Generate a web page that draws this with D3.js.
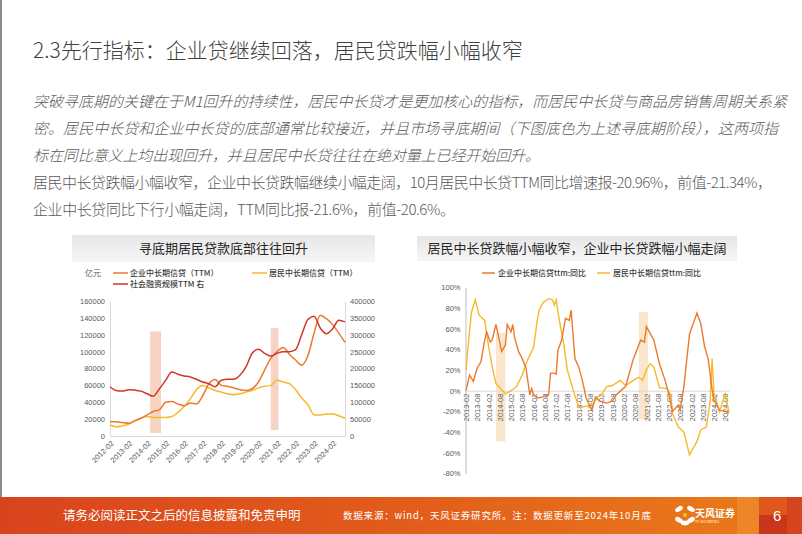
<!DOCTYPE html>
<html><head><meta charset="utf-8">
<script src="https://cdn.jsdelivr.net/npm/d3@7"></script>
<style>
html,body{margin:0;padding:0;background:#fff;}
svg{display:block;font-family:"Noto Sans CJK SC","Noto Sans",sans-serif;}
</style></head><body>
<svg id="c" width="802" height="534"></svg>
<script>
// ---------- texts ----------
const titleText = "2.3先行指标：企业贷继续回落，居民贷跌幅小幅收窄";
const paraItalic = [
  "突破寻底期的关键在于M1回升的持续性，居民中长贷才是更加核心的指标，而居民中长贷与商品房销售周期关系紧",
  "密。居民中长贷和企业中长贷的底部通常比较接近，并且市场寻底期间（下图底色为上述寻底期阶段），这两项指",
  "标在同比意义上均出现回升，并且居民中长贷往往在绝对量上已经开始回升。"
];
const paraPlain = [
  "居民中长贷跌幅小幅收窄，企业中长贷跌幅继续小幅走阔，10月居民中长贷TTM同比增速报-20.96%，前值-21.34%，",
  "企业中长贷同比下行小幅走阔，TTM同比报-21.6%，前值-20.6%。"
];
const leftTitle = "寻底期居民贷款底部往往回升";
const rightTitle = "居民中长贷跌幅小幅收窄，企业中长贷跌幅小幅走阔";
const leftUnit = "亿元";
const leftSeriesNames = ["企业中长期信贷（TTM）", "居民中长期信贷（TTM）", "社会融资规模TTM 右"];
const rightSeriesNames = ["企业中长期信贷ttm:同比", "居民中长期信贷ttm:同比"];
const footerLeft = "请务必阅读正文之后的信息披露和免责申明";
const footerSource = "数据来源：wind，天风证券研究所。注：数据更新至2024年10月底";
const pageNo = "6";

// ---------- left chart data (亿元) ----------
const leftDates = ["2012-02","2012-06","2012-10","2013-02","2013-06","2013-10","2014-02","2014-06","2014-10","2015-02","2015-06","2015-10","2016-02","2016-06","2016-10","2017-02","2017-06","2017-10","2018-02","2018-06","2018-10","2019-02","2019-06","2019-10","2020-02","2020-06","2020-10","2021-02","2021-06","2021-10","2022-02","2022-06","2022-10","2023-02","2023-06","2023-10","2024-02","2024-06","2024-10"];
const corpTTM = [17000,17000,16000,15000,18000,21000,25000,29000,31000,40000,41000,38000,36000,39000,38000,48000,62000,67000,60000,59000,57000,55000,54000,56000,64000,78000,92000,100000,105000,97000,90000,84000,95000,122000,143000,139000,132000,122000,111000];
const houseTTM = [13000,11000,12000,14000,18000,21000,23000,22000,22000,22000,23000,28000,35000,44000,55000,60000,57000,54000,52000,50000,49000,50000,52000,54000,57000,59000,60000,66000,64000,62000,55000,45000,37000,25000,25000,26000,26000,24000,21000];
const tsfTTM = [146000,135000,133000,137000,136000,133000,125000,118000,140000,165000,190000,183000,178000,175000,168000,160000,155000,146000,165000,168000,168000,180000,205000,245000,257000,245000,237000,245000,250000,250000,256000,300000,345000,355000,320000,303000,318000,343000,338000];
const leftYTicks = [0,20000,40000,60000,80000,100000,120000,140000,160000];
const rightYTicks = [0,50000,100000,150000,200000,250000,300000,350000,400000];
const leftXTicks = ["2012-02","2013-02","2014-02","2015-02","2016-02","2017-02","2018-02","2019-02","2020-02","2021-02","2022-02","2023-02","2024-02"];
const leftBandStart = ["2014-04","2020-10"];
const leftBandEnd = ["2014-11","2021-03"];
const leftBandTop = [124000,128000];
const leftBandBottom = [3500,7000];

// ---------- right chart data (% YoY) ----------
const corpDates = ["2013-02","2013-04","2013-06","2013-08","2013-10","2013-12","2014-01","2014-03","2014-04","2014-06","2014-08","2014-09","2014-11","2014-12","2015-02","2015-03","2015-04","2015-06","2015-08","2015-10","2015-12","2016-01","2016-02","2016-04","2016-07","2016-10","2016-11","2017-01","2017-02","2017-03","2017-05","2017-07","2017-09","2017-10","2017-12","2018-02","2018-04","2018-06","2018-09","2018-11","2019-01","2019-05","2019-08","2019-10","2020-03","2020-07","2020-11","2021-01","2021-02","2021-06","2021-09","2021-12","2022-02","2022-04","2022-07","2022-08","2022-10","2023-01","2023-05","2023-07","2023-09","2023-11","2024-01","2024-02","2024-05","2024-08","2024-10"];
const corpYoY = [0,15,9,22,28,49,57,47,49,64,47,38,44,64,57,64,51,38,31,22,-4,2,-4,-7,-6,-4,17,17,16,39,49,70,68,78,31,23,10,-7,-19,-6,-10,-12,-10,-4,4,30,49,47,62,49,26,10,-4,-20,-14,-19,4,55,75,65,43,30,1,-9,-19,-20,-21.6];
const houseDates = ["2013-02","2013-04","2013-05","2013-07","2013-09","2013-12","2014-02","2014-04","2014-06","2014-09","2014-11","2015-02","2015-05","2015-08","2015-10","2016-01","2016-02","2016-04","2016-05","2016-07","2016-10","2016-12","2017-01","2017-02","2017-04","2017-06","2017-08","2017-11","2018-02","2018-06","2018-10","2018-12","2019-02","2019-05","2019-08","2019-12","2020-03","2020-07","2020-10","2020-12","2021-02","2021-04","2021-06","2021-09","2022-01","2022-03","2022-04","2022-07","2022-10","2023-01","2023-05","2023-07","2023-10","2023-12","2024-01","2024-02","2024-05","2024-08","2024-10"];
const houseYoY = [20,59,76,88,73,68,43,23,7,1,-3,0,4,15,26,38,42,68,78,85,89,88,83,88,65,46,20,1,-16,-15,-12,-6,-4,4,5,10,5,10,13,10,20,26,23,3,2,-4,-22,-35,-40,-62,-49,-38,-35,-10,31,-3,-20,-3,-20.96];
const pctTicks = [-80,-60,-40,-20,0,20,40,60,80,100];
const rightXTicks = ["2013-02","2013-08","2014-02","2014-08","2015-02","2015-08","2016-02","2016-08","2017-02","2017-08","2018-02","2018-08","2019-02","2019-08","2020-02","2020-08","2021-02","2021-08","2022-02","2022-08","2023-02","2023-08","2024-02","2024-08"];
const rightBandStart = ["2014-06","2020-10"];
const rightBandEnd = ["2014-11","2021-03"];
const rightBandTop = [56,76];
const rightBandBottom = [-49,-28];

// ---------- colours ----------
const cCorp = "#EC7A2E", cHouse = "#F6B92B", cTsf = "#D2352A";
const cBandL = "#F7D3C3", cBandR = "#FAE6CC";

const parse = d3.timeParse("%Y-%m");
const svg = d3.select("#c");
const defs = svg.append("defs");

// slide frame
svg.append("rect").attr("x",0).attr("y",0).attr("width",802).attr("height",534).attr("fill","#fff");
svg.append("line").attr("x1",1).attr("x2",1).attr("y1",0).attr("y2",497).attr("stroke","#8c8c8c").attr("stroke-width",2);

// title
svg.append("text").attr("x",33).attr("y",58).attr("font-size",21).attr("font-weight",300)
  .attr("fill","#3f3f3f").text(titleText);

// paragraph
const lineY = [107,134,161,188,215];
const lineW = [754,745,507,739,422];
paraItalic.forEach((t,i)=>{
  svg.append("text").attr("x",33).attr("y",lineY[i]).attr("font-size",15).attr("font-style","italic").attr("font-weight",300)
    .attr("fill","#595959").attr("textLength",lineW[i]).attr("lengthAdjust","spacing").text(t);
});
paraPlain.forEach((t,i)=>{
  svg.append("text").attr("x",33).attr("y",lineY[i+3]).attr("font-size",15).attr("font-weight",300)
    .attr("fill","#595959").attr("textLength",lineW[i+3]).attr("lengthAdjust","spacing").text(t);
});

// title boxes
const g1 = defs.append("linearGradient").attr("id","tb").attr("x1",0).attr("x2",0).attr("y1",0).attr("y2",1);
g1.append("stop").attr("offset","0").attr("stop-color","#e6e6e6");
g1.append("stop").attr("offset","1").attr("stop-color","#f6f6f6");
function titleBox(x,y,w,h,t){
  svg.append("rect").attr("x",x).attr("y",y).attr("width",w).attr("height",h).attr("fill","url(#tb)");
  svg.append("text").attr("x",x+w/2).attr("y",y+h/2+4.5).attr("text-anchor","middle")
    .attr("font-size",13).attr("fill","#262626").text(t);
}
titleBox(72,235,303,27,leftTitle);
titleBox(417,236,320,25,rightTitle);

// ================= LEFT CHART =================
const xL = d3.scaleTime().domain([parse("2012-02"),parse("2024-10")]).range([110,345]);
const yL = d3.scaleLinear().domain([0,160000]).range([436,301]);
const yR = d3.scaleLinear().domain([0,400000]).range([436,301]);

// bands
leftBandStart.forEach((s,i)=>{
  svg.append("rect").attr("x",xL(parse(s))).attr("width",xL(parse(leftBandEnd[i]))-xL(parse(s)))
    .attr("y",yL(leftBandTop[i])).attr("height",yL(leftBandBottom[i])-yL(leftBandTop[i])).attr("fill",cBandL);
});

function styleAxis(g, fs){
  g.select(".domain").attr("stroke","#d9d9d9");
  g.selectAll("text").attr("fill","#595959").attr("font-size",fs).attr("font-family","'Liberation Sans',Arial,sans-serif");
}
svg.append("g").attr("transform","translate(110,0)")
  .call(d3.axisLeft(yL).tickValues(leftYTicks).tickSize(0).tickPadding(5).tickFormat(d3.format("d")))
  .call(g=>styleAxis(g,7.5));
svg.append("g").attr("transform","translate(345,0)")
  .call(d3.axisRight(yR).tickValues(rightYTicks).tickSize(0).tickPadding(5).tickFormat(d3.format("d")))
  .call(g=>styleAxis(g,7.5));
svg.append("g").attr("transform","translate(0,436)")
  .call(d3.axisBottom(xL).tickValues(leftXTicks.map(parse)).tickSize(0).tickFormat(d3.timeFormat("%Y-%m")))
  .call(g=>{styleAxis(g,7.5);
    g.selectAll("text").attr("x",0).attr("y",0).attr("dy","0.35em")
      .attr("transform","translate(2,6) rotate(-45)").style("text-anchor","end");});

const lineL = (ys)=>d3.line().x((d,i)=>xL(parse(leftDates[i]))).y(d=>ys(d)).curve(d3.curveMonotoneX);
svg.append("path").datum(houseTTM).attr("d",lineL(yL)).attr("fill","none").attr("stroke",cHouse).attr("stroke-width",1.5);
svg.append("path").datum(corpTTM).attr("d",lineL(yL)).attr("fill","none").attr("stroke",cCorp).attr("stroke-width",1.5);
svg.append("path").datum(tsfTTM).attr("d",lineL(yR)).attr("fill","none").attr("stroke",cTsf).attr("stroke-width",1.5);

// left legend
svg.append("text").attr("x",85).attr("y",276).attr("font-size",8).attr("fill","#595959").text(leftUnit);
const legL = [[113,273,cCorp,leftSeriesNames[0]],[252,273,cHouse,leftSeriesNames[1]],[113,284,cTsf,leftSeriesNames[2]]];
legL.forEach(([x,y,c,t])=>{
  svg.append("line").attr("x1",x).attr("x2",x+15).attr("y1",y).attr("y2",y).attr("stroke",c).attr("stroke-width",1.5);
  svg.append("text").attr("x",x+17).attr("y",y+3).attr("font-size",8).attr("font-weight",500).attr("fill","#404040").text(t);
});

// ================= RIGHT CHART =================
const xR = d3.scaleTime().domain([parse("2013-02"),parse("2024-10")]).range([466,729]);
const yP = d3.scaleLinear().domain([-80,100]).range([473.4,287.3]);

rightBandStart.forEach((s,i)=>{
  svg.append("rect").attr("x",xR(parse(s))).attr("width",xR(parse(rightBandEnd[i]))-xR(parse(s)))
    .attr("y",yP(rightBandTop[i])).attr("height",yP(rightBandBottom[i])-yP(rightBandTop[i])).attr("fill",cBandR);
});

svg.append("g").attr("transform","translate(465.5,0)")
  .call(d3.axisLeft(yP).tickValues(pctTicks).tickSize(0).tickPadding(5).tickFormat(d=>d+"%"))
  .call(g=>{styleAxis(g,7.5); g.select(".domain").attr("stroke","#bfbfbf");});
svg.append("g").attr("transform",`translate(0,${yP(0)})`)
  .call(d3.axisBottom(xR).tickValues(rightXTicks.map(parse)).tickSize(0).tickFormat(d3.timeFormat("%Y-%m")))
  .call(g=>{styleAxis(g,7.5);
    g.selectAll("text").attr("x",-3).attr("y",0).attr("dy","0.35em")
      .attr("transform","rotate(-90)").style("text-anchor","end");});

const lineR = (dates)=>d3.line().x((d,i)=>xR(parse(dates[i]))).y(d=>yP(d));
svg.append("path").datum(houseYoY).attr("d",lineR(houseDates)).attr("fill","none").attr("stroke",cHouse).attr("stroke-width",1.4);
svg.append("path").datum(corpYoY).attr("d",lineR(corpDates)).attr("fill","none").attr("stroke",cCorp).attr("stroke-width",1.4);

const legR = [[482,273,cCorp,rightSeriesNames[0]],[597,273,cHouse,rightSeriesNames[1]]];
legR.forEach(([x,y,c,t])=>{
  svg.append("line").attr("x1",x).attr("x2",x+13).attr("y1",y).attr("y2",y).attr("stroke",c).attr("stroke-width",1.5);
  svg.append("text").attr("x",x+16).attr("y",y+3).attr("font-size",8).attr("font-weight",500).attr("fill","#404040").text(t);
});

// ================= FOOTER =================
const fg = defs.append("linearGradient").attr("id","fg").attr("x1",0).attr("x2",1).attr("y1",0).attr("y2",0);
fg.append("stop").attr("offset","0").attr("stop-color","#D9441E");
fg.append("stop").attr("offset","0.5").attr("stop-color","#E25C1B");
fg.append("stop").attr("offset","0.9").attr("stop-color","#E9771A");
fg.append("stop").attr("offset","1").attr("stop-color","#E46A1A");
svg.append("rect").attr("x",0).attr("y",497).attr("width",802).attr("height",37).attr("fill","url(#fg)");
svg.append("rect").attr("x",737).attr("y",497).attr("width",22).attr("height",37).attr("fill","#EE8B2C").attr("opacity",0.8);
svg.append("rect").attr("x",759).attr("y",515).attr("width",28).attr("height",19).attr("fill","#C9361C");
svg.append("rect").attr("x",759).attr("y",497).attr("width",28).attr("height",18).attr("fill","#E0571C");
svg.append("rect").attr("x",787).attr("y",497).attr("width",15).attr("height",37).attr("fill","#D5451D");
svg.append("text").attr("x",63).attr("y",520).attr("font-size",12.5).attr("fill","#fff").text(footerLeft);
svg.append("text").attr("x",343).attr("y",519).attr("font-size",9.5).attr("fill","#fff")
  .attr("textLength",308).attr("lengthAdjust","spacing").text(footerSource);
// logo
const lg = svg.append("g").attr("transform","translate(685,515)").attr("fill","#fff");
[[-6,-6,-30],[6,-6,30],[-6,5,30],[6,5,-30],[0,8,0]].forEach(([dx,dy,r])=>{
  lg.append("ellipse").attr("cx",dx).attr("cy",dy).attr("rx",4.2).attr("ry",2.4).attr("transform",`rotate(${r},${dx},${dy})`);
});
lg.append("circle").attr("r",2).attr("fill","#F2C230");
svg.append("text").attr("x",695).attr("y",517).attr("font-size",10).attr("font-weight",700).attr("fill","#fff").text("天风证券");
svg.append("text").attr("x",695).attr("y",523).attr("font-size",3.5).attr("fill","#fff").text("TF SECURITIES");
svg.append("text").attr("x",773).attr("y",521).attr("font-size",15).attr("fill","#fff").attr("font-family","'Liberation Sans',Arial,sans-serif").text(pageNo);
</script>
</body></html>
